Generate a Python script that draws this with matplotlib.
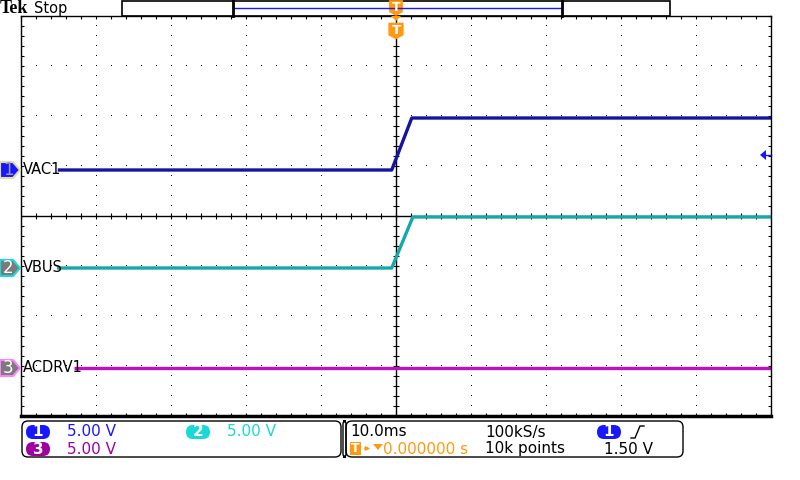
import numpy as np
import matplotlib
matplotlib.use("Agg")
import matplotlib.pyplot as plt
from matplotlib import font_manager
from matplotlib.patches import Polygon, Rectangle, FancyBboxPatch

# Scope settings (10 ms/div, 5 V/div on all channels)
TIME_PER_DIV = 10.0
VOLT_PER_DIV = 5.0
CH_NAMES = ["VAC1", "VBUS", "ACDRV1"]
CH_OFFSET_DIV = [0.92, -1.04, -3.04]

# Traces (time in ms, volts relative to channel ground)
t_vac1 = [-45.1, -0.57, 2.1, 50.0]
v_vac1 = [0.0, 0.0, 5.2, 5.2]
t_vbus = [-45.2, -0.57, 2.25, 50.0]
v_vbus = [0.0, 0.0, 5.1, 5.1]
t_acdrv = [-42.9, 50.0]
v_acdrv = [0.0, 0.0]

TRIG_LEVEL = 1.50

C_VAC1 = "#14149e"
C_VBUS = "#16a8a8"
C_ACDRV = "#c010c0"
C_BLUE = "#1818ff"
C_CYAN = "#18d8d8"
C_PURPLE = "#a000a0"
C_ORANGE = "#ff9a10"

names = {f.name for f in font_manager.fontManager.ttflist}
FONT = "Liberation Sans Narrow" if "Liberation Sans Narrow" in names else "DejaVu Sans"
plt.rcParams["font.family"] = [FONT, "DejaVu Sans"]

fig = plt.figure(figsize=(8, 4.8), dpi=100)
L, T, W, H = 21, 16, 750, 400  # graticule in pixels
ax = fig.add_axes([L / 800, (480 - T - H) / 480, W / 800, H / 480])
ax.set_xlim(-5 * TIME_PER_DIV, 5 * TIME_PER_DIV)
ax.set_ylim(-4, 4)

# graticule: dotted grid lines, centre cross with ticks
for xd in range(-4, 5):
    if xd == 0:
        continue
    yy = np.arange(-4, 4.01, 0.2)
    ax.plot(np.full_like(yy, xd * TIME_PER_DIV), yy, ",", color="black")
for yd in range(-3, 4):
    if yd == 0:
        continue
    xx = np.arange(-5, 5.01, 0.2) * TIME_PER_DIV
    ax.plot(xx, np.full_like(xx, yd), ",", color="black")
ax.axhline(0, color="black", lw=1)
ax.axvline(0, color="black", lw=1)
xx = np.arange(-5, 5.01, 0.2) * TIME_PER_DIV
ax.plot(xx, np.zeros_like(xx), "|", color="black", ms=4, mew=0.8)
yy = np.arange(-4, 4.01, 0.2)
ax.plot(np.zeros_like(yy), yy, "_", color="black", ms=4, mew=0.8)

ax.set_xticks(np.arange(-5, 6) * TIME_PER_DIV)
ax.set_yticks(np.arange(-4, 5))
ax.set_xticks(np.arange(-5, 5.01, 0.2) * TIME_PER_DIV, minor=True)
ax.set_yticks(np.arange(-4, 4.01, 0.2), minor=True)
ax.tick_params(which="both", direction="in", length=2.5, width=0.8,
               top=True, right=True, labelbottom=False, labelleft=False)
for s in ax.spines.values():
    s.set_linewidth(1)
ax.spines["bottom"].set_linewidth(2.5)

traces = [(t_vac1, v_vac1, C_VAC1), (t_vbus, v_vbus, C_VBUS), (t_acdrv, v_acdrv, C_ACDRV)]
for i, (t, v, c) in enumerate(traces):
    pos = CH_OFFSET_DIV[i] + np.array(v) / VOLT_PER_DIV
    ax.plot(t, pos, color=c, lw=2.4, solid_capstyle="butt")

# overlay in pixel coordinates for the scope decorations
ov = fig.add_axes([0, 0, 1, 1], zorder=5)
ov.set_xlim(0, 800)
ov.set_ylim(480, 0)
ov.axis("off")
ov.patch.set_alpha(0)

def ypix(div):
    return T + (4 - div) * 50

# top bar
ov.text(0, 8.5, "Tek", fontsize=13, fontweight="bold", family=["Liberation Serif", "DejaVu Serif"],
        va="center", ha="left")
ov.text(34, 8, "Stop", fontsize=10.5, va="center", ha="left")
ov.add_patch(Rectangle((121.5, 0.5), 548, 15, fill=False, ec="black", lw=1.2))
ov.plot([232.5, 562], [7.5, 7.5], color=C_BLUE, lw=1)
ov.plot([232.5, 232.5], [0.5, 15.5], color="black", lw=2)
ov.plot([562, 562], [0.5, 15.5], color="black", lw=2)

def trig_marker(x, y, h):
    w = h * 0.45
    ov.add_patch(Polygon([(x - w, y - h / 2), (x + w, y - h / 2), (x + w, y + h / 4),
                          (x, y + h / 2), (x - w, y + h / 4)],
                         closed=True, fc=C_ORANGE, ec=C_ORANGE, lw=0.5))
    ov.text(x, y - h * 0.05, "T", color="white", fontsize=h * 0.6, fontweight="bold",
            ha="center", va="center", family="DejaVu Sans")

trig_marker(396, 8, 15)
ov.add_patch(Polygon([(391, 16), (401, 16), (396, 21)], closed=True, fc=C_ORANGE, ec="none"))
trig_marker(396, 31, 16)

# channel markers on the left
marker_style = [(C_BLUE, "#9a9ab0", "#e0e0a0"), ("#7a7a7a", "white", C_CYAN), ("#7a7a7a", "white", "#ff80ff")]
for i, name in enumerate(CH_NAMES):
    y = ypix(CH_OFFSET_DIV[i])
    fc, tc, ec = marker_style[i]
    ov.add_patch(Polygon([(0, y - 8), (13, y - 8), (20, y), (13, y + 8), (0, y + 8)],
                         closed=True, fc=fc, ec=ec, lw=1.5))
    ov.text(8, y, str(i + 1), color=tc, fontsize=12, ha="center", va="center",
            family="DejaVu Sans")
    ov.text(23, y, name, color="black", fontsize=10.5, ha="left", va="center")

# trigger level arrow on the right
yt = ypix(CH_OFFSET_DIV[0] + TRIG_LEVEL / VOLT_PER_DIV)
ov.add_patch(Polygon([(760, yt), (766, yt - 5), (766, yt + 5)], closed=True, fc=C_BLUE, ec="none"))
ov.plot([764, 771], [yt, yt], color=C_BLUE, lw=1)

# bottom status boxes
ov.add_patch(FancyBboxPatch((22, 421), 319, 36, boxstyle="round,pad=0,rounding_size=6",
                            fill=False, ec="black", lw=1))
ov.add_patch(FancyBboxPatch((343, 421), 3, 36, boxstyle="round,pad=0,rounding_size=3",
                            fill=False, ec="black", lw=1))
ov.add_patch(FancyBboxPatch((346, 421), 337, 36, boxstyle="round,pad=0,rounding_size=6",
                            fill=False, ec="black", lw=1))

def pill(x, y, label, color):
    ov.add_patch(FancyBboxPatch((x, y - 7), 24, 14, boxstyle="round,pad=0,rounding_size=7",
                                fc=color, ec="none"))
    ov.text(x + 12, y, label, color="white", fontsize=11, fontweight="bold",
            ha="center", va="center", family="DejaVu Sans")

pill(26, 432, "1", C_BLUE)
ov.text(67, 432, "5.00 V", color=C_BLUE, fontsize=11, va="center")
pill(186, 432, "2", C_CYAN)
ov.text(227, 432, "5.00 V", color=C_CYAN, fontsize=11, va="center")
pill(26, 449, "3", C_PURPLE)
ov.text(67, 449, "5.00 V", color=C_PURPLE, fontsize=11, va="center")

ov.text(350, 432, "10.0ms", color="black", fontsize=11, va="center")
ov.add_patch(Rectangle((350, 442), 11, 13, fc=C_ORANGE, ec="none"))
ov.text(355.5, 448.5, "T", color="white", fontsize=9, fontweight="bold", ha="center",
        va="center", family="DejaVu Sans")
ov.annotate("", xy=(373, 448.5), xytext=(362, 448.5),
            arrowprops=dict(arrowstyle="-|>", color=C_ORANGE, lw=1, mutation_scale=6))
ov.add_patch(Polygon([(373, 444), (383, 444), (378, 450)], closed=True, fc=C_ORANGE, ec="none"))
ov.text(383, 449, "0.000000 s", color=C_ORANGE, fontsize=11, va="center")

ov.text(485, 432, "100kS/s", color="black", fontsize=11, va="center")
ov.text(485, 449, "10k points", color="black", fontsize=11, va="center")
pill(597, 432, "1", C_BLUE)
ov.plot([631, 635, 640, 644], [438, 438, 426, 426], color="black", lw=1)
ov.text(604, 449, "%.2f V" % TRIG_LEVEL, color="black", fontsize=11, va="center")

fig.savefig("out.png", dpi=100)
